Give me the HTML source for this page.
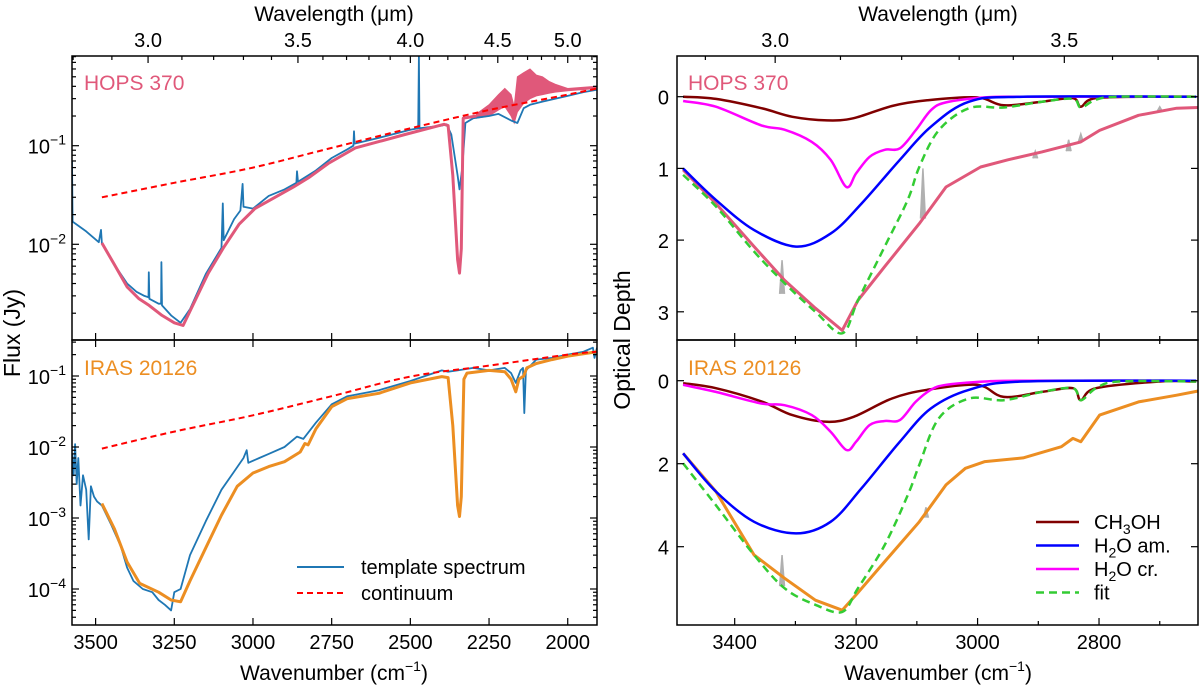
<!DOCTYPE html>
<html><head><meta charset="utf-8"><style>
html,body{margin:0;padding:0;background:#fff;}
svg{display:block;font-family:"Liberation Sans","DejaVu Sans",sans-serif;}
</style></head><body>
<svg id="fig" width="1200" height="685" viewBox="0 0 1200 685" xmlns="http://www.w3.org/2000/svg"></svg>
<script>
// ---------- DATA ----------
const hopsTplNu=[3575,3573,3530,3490,3483,3480,3440,3400,3370,3345,3332,3331,3329,3300,3292,3291,3289,3260,3230,3200,3150,3100,3096,3093,3060,3040,3033,3030,3000,2950,2900,2862,2860,2857,2800,2750,2700,2681,2679,2677,2600,2500,2475,2473,2471,2400,2385,2370,2350,2344,2335,2325,2300,2250,2220,2180,2160,2140,2120,2080,2040,2000,1950,1907];
const hopsTplFlux=[.07,.017,.0135,.0105,.014,.0102,.0062,.0040,.0033,.0030,.0029,.0052,.0028,.0025,.0025,.0066,.0024,.0019,.0016,.0022,.0050,.0092,.026,.011,.018,.022,.041,.024,.023,.031,.036,.042,.055,.043,.056,.075,.092,.10,.14,.105,.12,.145,.15,.8,.15,.16,.165,.13,.05,.036,.06,.17,.19,.20,.21,.18,.17,.24,.26,.28,.30,.32,.35,.37];
const hopsModNu=[3480,3440,3400,3362,3330,3289,3250,3222,3200,3142,3092,3044,2994,2930,2872,2820,2761,2675,2600,2517,2393,2380,2365,2350,2344,2338,2332,2290];
const hopsModFlux=[.0103,.0062,.0037,.0028,.0024,.0019,.0016,.0015,.0021,.0051,.0094,.016,.023,.030,.038,.048,.066,.095,.11,.13,.165,.16,.05,.007,.0051,.009,.19,.2];
const hopsBandNu=[2290,2250,2220,2200,2180,2170,2160,2140,2120,2100,2080,2060,2040,2000,1907];
const hopsBandHi=[.21,.26,.33,.38,.33,.25,.5,.55,.60,.52,.5,.45,.42,.38,.40];
const hopsBandLo=[.19,.2,.23,.25,.20,.17,.22,.27,.30,.32,.33,.34,.35,.36,.38];
const hopsContNu=[3480,3250,3000,2750,2500,2250,2000,1907];
const hopsContFlux=[.03,.042,.06,.095,.15,.23,.33,.38];
const irasTplNu=[3575,3570,3565,3560,3555,3548,3540,3530,3522,3515,3505,3495,3480,3450,3420,3400,3380,3350,3320,3300,3280,3260,3250,3230,3200,3150,3100,3060,3030,3020,3015,2980,2950,2900,2860,2840,2800,2750,2700,2600,2500,2400,2380,2350,2300,2250,2200,2180,2165,2150,2142,2138,2133,2100,2050,2000,1950,1920,1915,1907];
const irasTplFlux=[.008,.004,.011,.003,.007,.0015,.004,.0025,.0005,.0028,.002,.0017,.0015,.0008,.0004,.0002,.00013,.0001,.00009,.00007,.00006,.00005,.00009,.0001,.0003,.0009,.0025,.0045,.007,.009,.006,.007,.008,.010,.014,.013,.022,.040,.052,.063,.085,.12,.115,.12,.13,.12,.13,.11,.08,.12,.13,.03,.12,.17,.18,.2,.22,.25,.18,.25];
const irasModNu=[3480,3440,3400,3360,3300,3260,3230,3200,3150,3100,3050,3000,2950,2900,2850,2835,2825,2800,2750,2700,2600,2500,2400,2380,2365,2350,2344,2338,2330,2320,2250,2200,2180,2165,2155,2140,2130,2100,2050,2000,1907];
const irasModFlux=[.0016,.0007,.00024,.00012,.00009,.00007,.000066,.00013,.00038,.0011,.0028,.0043,.0053,.0062,.0085,.0112,.0107,.018,.037,.048,.057,.08,.098,.095,.02,.0015,.00105,.002,.09,.11,.12,.115,.09,.06,.09,.10,.13,.15,.17,.19,.22];
const irasContNu=[3480,3250,3000,2750,2500,2250,2000,1907];
const irasContFlux=[.0095,.0165,.028,.052,.098,.14,.2,.22];
const tauNuA=[3485,3431,3356,3305,3248,3204,3141,3083,3001,2957,2894,2843,2830,2805,2700,2640];
const hopsCH3OH=[0,.03,.16,.28,.33,.30,.13,.05,.01,.12,.07,.02,.14,.02,0,0];
const irasCH3OH=[.06,.18,.5,.83,.99,.87,.43,.22,.1,.39,.27,.18,.47,.18,.02,.02];
const crNu=[3485,3431,3356,3318,3273,3242,3216,3200,3178,3153,3128,3102,3077,3052,2988,2925,2640];
const hopsCr=[.06,.14,.4,.46,.63,.88,1.26,1.07,.84,.74,.72,.47,.19,.08,.01,0,0];
const irasCr=[.1,.27,.55,.59,.83,1.23,1.67,1.47,1.07,.97,.95,.51,.22,.1,.02,0,0];
const amNu=[3485,3431,3368,3299,3242,3191,3128,3077,3014,2925,2640];
const hopsAm=[1.0,1.44,1.86,2.09,1.91,1.49,.88,.42,.07,0,0];
const irasAm=[1.75,2.67,3.4,3.68,3.4,2.59,1.47,.67,.22,.02,0];
const fitNu=[3485,3431,3368,3318,3267,3223,3197,3153,3115,3096,3064,3014,2957,2894,2843,2830,2805,2767,2640];
const hopsFit=[1.09,1.53,2.16,2.6,3.0,3.3,2.84,2.09,1.44,.98,.47,.16,.15,.07,.03,.15,.04,0,0];
const irasFit=[1.99,3.0,4.2,5.0,5.4,5.57,5.0,3.96,2.76,2.03,.91,.43,.47,.27,.18,.47,.18,.02,.02];
const hopsObsNu=[3485,3431,3368,3318,3267,3223,3197,3153,3096,3052,2995,2950,2894,2830,2799,2735,2672,2634];
const hopsObs=[1.02,1.49,2.09,2.56,2.95,3.26,2.84,2.37,1.77,1.26,.98,.88,.77,.63,.47,.26,.16,.15];
const irasObsNu=[3485,3431,3368,3318,3267,3223,3200,3153,3096,3052,3020,2988,2925,2862,2843,2830,2799,2735,2672,2634];
const irasObs=[1.75,2.67,4.2,4.76,5.29,5.53,5.16,4.36,3.4,2.51,2.11,1.95,1.86,1.59,1.39,1.47,.83,.51,.35,.24];
const hopsSpikeNu=[3322,3090,2850,2905,2830,2700];
const hopsSpikeBase=[2.75,1.7,.76,.86,.63,.2];
const hopsSpikePeak=[2.28,1.0,.6,.76,.52,.14];
const irasSpikeNu=[3322,3085];
const irasSpikeBase=[4.95,3.3];
const irasSpikePeak=[4.2,3.05];

// ---------- GEOMETRY ----------
const svg=document.getElementById('fig');
const NS='http://www.w3.org/2000/svg';
const L={x0:72,x1:597,n0:3575,n1:1907};
const R={x0:677,x1:1198,n0:3495,n1:2637};
const T={y0:56,y1:340}, B={y0:340,y1:625};
const xL=n=>L.x0+(L.n0-n)/(L.n0-L.n1)*(L.x1-L.x0);
const xR=n=>R.x0+(R.n0-n)/(R.n0-R.n1)*(R.x1-R.x0);
const yLT=f=>145.7-(Math.log10(f)+1)*98.6;
const yLB=f=>376-(Math.log10(f)+1)*71;
const yRT=t=>96.7+t*71.7;
const yRB=t=>380.7+t*41.5;

function el(tag,attrs,parent){const e=document.createElementNS(NS,tag);for(const k in attrs)e.setAttribute(k,attrs[k]);(parent||svg).appendChild(e);return e;}
function pathD(xs,ys,fx,fy){return xs.map((v,i)=>(i?'L':'M')+fx(v).toFixed(1)+','+fy(ys[i]).toFixed(1)).join('');}
function smoothD(xs,ys,fx,fy){
  const p=xs.map((v,i)=>[fx(v),fy(ys[i])]);
  let d='M'+p[0][0].toFixed(1)+','+p[0][1].toFixed(1);
  for(let i=0;i<p.length-1;i++){
    const p0=p[Math.max(0,i-1)],p1=p[i],p2=p[i+1],p3=p[Math.min(p.length-1,i+2)];
    const c1=[p1[0]+(p2[0]-p0[0])/6,p1[1]+(p2[1]-p0[1])/6];
    const c2=[p2[0]-(p3[0]-p1[0])/6,p2[1]-(p3[1]-p1[1])/6];
    d+='C'+c1.map(v=>v.toFixed(1)).join(',')+' '+c2.map(v=>v.toFixed(1)).join(',')+' '+p2[0].toFixed(1)+','+p2[1].toFixed(1);
  }
  return d;
}

const defs=el('defs',{});
[['cLT',L,T],['cLB',L,B],['cRT',R,T],['cRB',R,B]].forEach(([id,a,b])=>{const c=el('clipPath',{id:id},defs);el('rect',{x:a.x0,y:b.y0,width:a.x1-a.x0,height:b.y1-b.y0},c);});

function line(xs,ys,fx,fy,clip,color,w,name,dash,smooth){
  const g=el('path',{d:smooth?smoothD(xs,ys,fx,fy):pathD(xs,ys,fx,fy),fill:'none',stroke:color,'stroke-width':w,'stroke-linejoin':'round','clip-path':'url(#'+clip+')'});
  if(dash)g.setAttribute('stroke-dasharray',dash);
  
  
  return g;
}

// ----- Left top -----
const band=el('path',{d:pathD(hopsBandNu,hopsBandHi,xL,yLT)+pathD(hopsBandNu.slice().reverse(),hopsBandLo.slice().reverse(),xL,yLT).replace('M','L')+'Z',fill:'#e0587a',stroke:'#e0587a','stroke-width':1,'clip-path':'url(#cLT)'});


line(hopsTplNu,hopsTplFlux,xL,yLT,'cLT','#1f77b4',1.8,'hops-template-spectrum');
line(hopsModNu,hopsModFlux,xL,yLT,'cLT','#e0587a',3,'hops-model-spectrum');
line(hopsContNu,hopsContFlux,xL,yLT,'cLT','#ff0000',2,'hops-continuum','6,4',true);
// ----- Left bottom -----
line(irasTplNu,irasTplFlux,xL,yLB,'cLB','#1f77b4',1.8,'iras-template-spectrum');
line(irasModNu,irasModFlux,xL,yLB,'cLB','#ec8e22',3,'iras-model-spectrum');
line(irasContNu,irasContFlux,xL,yLB,'cLB','#ff0000',2,'iras-continuum','6,4',true);
// ----- Right -----
function spikes(nu,base,peak,fy,clip,name){nu.forEach((n,i)=>{const p=el('path',{d:`M${xR(n+4)},${fy(base[i])}L${xR(n)},${fy(peak[i])}L${xR(n-4)},${fy(base[i])}`,fill:'#b0b0b0',stroke:'#b0b0b0','stroke-width':1.5,'clip-path':'url(#'+clip+')'});});}
spikes(hopsSpikeNu,hopsSpikeBase,hopsSpikePeak,yRT,'cRT','hops-masked-line');
line(hopsObsNu,hopsObs,xR,yRT,'cRT','#e0587a',3,'hops-observed-tau');
line(tauNuA,hopsCH3OH,xR,yRT,'cRT','#800000',2.5,'hops-ch3oh','',true);
line(crNu,hopsCr,xR,yRT,'cRT','#ff00ff',2.5,'hops-h2o-cr','',true);
line(amNu,hopsAm,xR,yRT,'cRT','#0000ff',2.5,'hops-h2o-am','',true);
line(fitNu,hopsFit,xR,yRT,'cRT','#33cc33',2.5,'hops-fit','8,5',true);
spikes(irasSpikeNu,irasSpikeBase,irasSpikePeak,yRB,'cRB','iras-masked-line');
line(irasObsNu,irasObs,xR,yRB,'cRB','#ec8e22',3,'iras-observed-tau');
line(tauNuA,irasCH3OH,xR,yRB,'cRB','#800000',2.5,'iras-ch3oh','',true);
line(crNu,irasCr,xR,yRB,'cRB','#ff00ff',2.5,'iras-h2o-cr','',true);
line(amNu,irasAm,xR,yRB,'cRB','#0000ff',2.5,'iras-h2o-am','',true);
line(fitNu,irasFit,xR,yRB,'cRB','#33cc33',2.5,'iras-fit','8,5',true);

// ---------- AXES ----------
function tick(x1,y1,x2,y2){el('line',{x1:x1,y1:y1,x2:x2,y2:y2,stroke:'#000','stroke-width':1.2});}
function text(x,y,s,name,anchor,size,color){const t=el('text',{x:x,y:y,'font-size':size||20,'text-anchor':anchor||'middle',fill:color||'#000'});t.textContent=s;return t;}
function powLabel(x,y,exp,name){const t=el('text',{x:x,y:y,'font-size':20,'text-anchor':'end'});
 const a=el('tspan',{},t);a.textContent='10';const b=el('tspan',{dy:-9,'font-size':14},t);b.textContent='\u2212'+exp;}

[[L,T],[L,B],[R,T],[R,B]].forEach(([a,b],i)=>{const r=el('rect',{x:a.x0,y:b.y0,width:a.x1-a.x0,height:b.y1-b.y0,fill:'none',stroke:'#000','stroke-width':1.5});});

const lxTicks=[3500,3250,3000,2750,2500,2250,2000];
lxTicks.forEach(n=>{const x=xL(n);tick(x,T.y1,x,T.y1-7);tick(x,B.y1,x,B.y1-7);tick(x,B.y0,x,B.y0+7);text(x,649,String(n),'x-tick-label');});
[3.0,3.5,4.0,4.5,5.0].forEach(w=>{const x=xL(1e4/w);text(x,47,w.toFixed(1),'top-x-tick-label');});
for(let w=2.8;w<=5.25;w+=0.1){const x=xL(1e4/w);if(x<L.x0||x>L.x1)continue;const maj=Math.abs(w*2-Math.round(w*2))<1e-6;tick(x,T.y0,x,T.y0+(maj?7:4));}
[3400,3200,3000,2800].forEach(n=>{const x=xR(n);text(x,649,String(n),'x-tick-label');});
for(let n=3400;n>=2700;n-=100){const x=xR(n);const maj=n%200===0;[T.y1,B.y1].forEach(y=>tick(x,y,x,y-(maj?7:4)));tick(x,B.y0,x,B.y0+(maj?7:4));}
[3.0,3.5].forEach(w=>text(xR(1e4/w),47,w.toFixed(1),'top-x-tick-label'));
for(let w=2.9;w<=3.8;w+=0.1){const x=xR(1e4/w);if(x<R.x0||x>R.x1)continue;const maj=Math.abs(w*2-Math.round(w*2))<1e-6;tick(x,T.y0,x,T.y0+(maj?7:4));}
function logTicks(fy,lo,hi,y0,y1,labels){for(let k=lo;k<=hi;k++){for(let m=1;m<10;m++){const y=fy(m*Math.pow(10,k));if(y<y0||y>y1)continue;const len=m===1?7:4;tick(L.x0,y,L.x0+len,y);tick(L.x1,y,L.x1-len,y);if(m===1&&labels.includes(k))powLabel(66,y+8,-k,'y-tick-label');}}}
logTicks(yLT,-3,0,T.y0,T.y1,[-1,-2]);
logTicks(yLB,-5,0,B.y0,B.y1,[-1,-2,-3,-4]);
[0,1,2,3].forEach(t=>{const y=yRT(t);tick(R.x0,y,R.x0+7,y);tick(R.x1,y,R.x1-7,y);text(669,y+8,String(t),'y-tick-label','end');});
[0,2,4].forEach(t=>{const y=yRB(t);tick(R.x0,y,R.x0+7,y);tick(R.x1,y,R.x1-7,y);text(669,y+8,String(t),'y-tick-label','end');});

text(334,21,'Wavelength (\u03bcm)','top-x-axis-title-left','middle',21);
text(938,21,'Wavelength (\u03bcm)','top-x-axis-title-right','middle',21);
const wl=text(334,680,'Wavenumber (cm','x-axis-title-left','middle',21);
function addSup(t){const s=el('tspan',{dy:-9,'font-size':14},t);s.textContent='\u22121';const c=el('tspan',{dy:9},t);c.textContent=')';}
addSup(wl);
const wr=text(938,680,'Wavenumber (cm','x-axis-title-right','middle',21);addSup(wr);
const fl=text(0,0,'Flux (Jy)','y-axis-title-flux','middle',23);fl.setAttribute('transform','translate(20,333) rotate(-90)');
const od=text(0,0,'Optical Depth','y-axis-title-tau','middle',23);od.setAttribute('transform','translate(630,340) rotate(-90)');
text(84,90,'HOPS 370','hops-label-left','start',21,'#e0587a');
text(84,375,'IRAS 20126','iras-label-left','start',21,'#ec8e22');
text(688,90,'HOPS 370','hops-label-right','start',21,'#e0587a');
text(688,375,'IRAS 20126','iras-label-right','start',21,'#ec8e22');

const lg1=el('g',{});
el('line',{x1:297,y1:567,x2:344,y2:567,stroke:'#1f77b4','stroke-width':2},lg1);
el('line',{x1:297,y1:593,x2:344,y2:593,stroke:'#ff0000','stroke-width':2,'stroke-dasharray':'6,4'},lg1);
text(361,574,'template spectrum','legend-entry','start',20);
text(361,600,'continuum','legend-entry','start',20);
const lg2=el('g',{});
const lgc=[['#800000',''],['#0000ff',''],['#ff00ff',''],['#33cc33','8,5']];
lgc.forEach((c,i)=>{const y=522+i*23.5;const l=el('line',{x1:1036,y1:y,x2:1079,y2:y,stroke:c[0],'stroke-width':2.5},lg2);if(c[1])l.setAttribute('stroke-dasharray',c[1]);});
function chem(y,parts,name){const t=el('text',{x:1094,y:y,'font-size':20});parts.forEach(p=>{const s=el('tspan',p[1]?{dy:5,'font-size':14}:{dy:p[2]||0},t);s.textContent=p[0];});}
chem(529,[['CH'],['3',1],['OH',0,-5]],'legend-entry');
chem(552.5,[['H'],['2',1],['O am.',0,-5]],'legend-entry');
chem(576,[['H'],['2',1],['O cr.',0,-5]],'legend-entry');
text(1094,599.5,'fit','legend-entry','start',20);
</script>
</body></html>
